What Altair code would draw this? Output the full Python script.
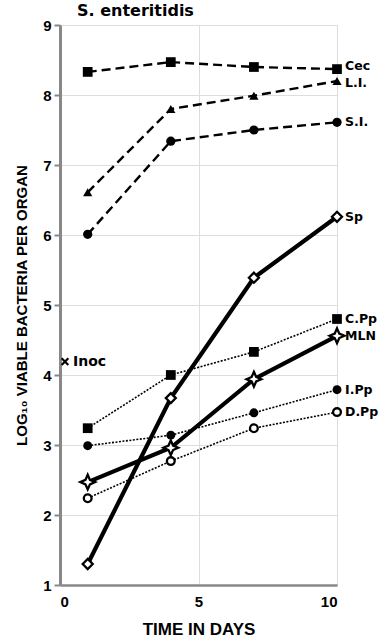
import altair as alt
import pandas as pd

days = [1, 4, 7, 10]
series_names = ["Cec", "L.I.", "S.I.", "Sp", "C.Pp", "MLN", "I.Pp", "D.Pp"]
cec = [8.33, 8.47, 8.40, 8.37]
li = [6.61, 7.80, 7.99, 8.20]
si = [6.01, 7.34, 7.50, 7.61]
sp = [1.30, 3.67, 5.39, 6.26]
cpp = [3.24, 4.00, 4.33, 4.80]
mln = [2.47, 2.96, 3.94, 4.56]
ipp = [2.99, 3.14, 3.46, 3.79]
dpp = [2.24, 2.77, 3.24, 3.47]
label_shift = [-3, 2, 0, 0, 0, 0, 0, 0]
inoc_day = [0.18]
inoc_value = [4.19]
inoc_label = ["Inoc"]
x_ticks = [0, 5, 10]
y_ticks = [1, 2, 3, 4, 5, 6, 7, 8, 9]

values = {"Cec": cec, "L.I.": li, "S.I.": si, "Sp": sp,
          "C.Pp": cpp, "MLN": mln, "I.Pp": ipp, "D.Pp": dpp}

FONT = "DejaVu Sans"
star = "M0,-1.25L0.38,-0.38L1.25,0L0.38,0.38L0,1.25L-0.38,0.38L-1.25,0L-0.38,-0.38Z"

styles = {
    "Cec": dict(width=2.4, dash=[9, 5], shape="square", filled=True, size=95),
    "L.I.": dict(width=2.4, dash=[9, 5], shape="triangle-up", filled=True, size=85),
    "S.I.": dict(width=2.4, dash=[9, 5], shape="circle", filled=True, size=85),
    "Sp": dict(width=4.2, dash=None, shape="diamond", filled=False, size=100),
    "C.Pp": dict(width=1.6, dash=[2, 1.5], shape="square", filled=True, size=95),
    "MLN": dict(width=4.2, dash=None, shape=star, filled=False, size=140),
    "I.Pp": dict(width=1.6, dash=[2, 1.5], shape="circle", filled=True, size=80),
    "D.Pp": dict(width=1.6, dash=[2, 1.5], shape="circle", filled=False, size=60),
}

x_enc = alt.X("day:Q", scale=alt.Scale(domain=[0, 10]),
              axis=alt.Axis(values=x_ticks, title="TIME IN DAYS", ticks=False,
                            labelPadding=9, titlePadding=12, domainWidth=2.5,
                            labelFontSize=15, titleFontSize=17,
                            labelFontWeight="bold", titleFontWeight="bold"))
y_enc = alt.Y("value:Q", scale=alt.Scale(domain=[1, 9]),
              axis=alt.Axis(values=y_ticks, title="LOG\u2081\u2080 VIABLE BACTERIA PER ORGAN",
                            tickSize=6, tickWidth=2, labelPadding=3, titlePadding=13,
                            domainWidth=3, labelFontSize=15, titleFontSize=15,
                            labelFontWeight="bold", titleFontWeight="bold"))

line_layers, point_layers, text_layers = [], [], []
for s, shift in zip(series_names, label_shift):
    sub = pd.DataFrame({"series": s, "day": days, "value": values[s]})
    st = styles[s]
    lkw = dict(color="black", strokeWidth=st["width"])
    if st["dash"]:
        lkw["strokeDash"] = st["dash"]
    line_layers.append(alt.Chart(sub).mark_line(**lkw).encode(x=x_enc, y=y_enc))
    pkw = dict(shape=st["shape"], size=st["size"], opacity=1)
    if st["filled"]:
        pkw.update(filled=True, color="black", strokeWidth=0)
    else:
        pkw.update(filled=True, fill="white", stroke="black", strokeWidth=2.3)
    point_layers.append(alt.Chart(sub).mark_point(**pkw).encode(x=x_enc, y=y_enc))
    last = sub.iloc[[-1]]
    text_layers.append(
        alt.Chart(last).mark_text(align="left", baseline="middle", dx=8, dy=shift, font=FONT,
                                  fontWeight="bold", fontSize=12.5, color="black")
        .encode(x=x_enc, y=y_enc, text="series:N"))

inoc_df = pd.DataFrame({"day": inoc_day, "value": inoc_value, "label": inoc_label})
inoc_mark = alt.Chart(inoc_df).mark_point(shape="M-1,-1L1,1M-1,1L1,-1", size=45, filled=False,
                                           color="black", strokeWidth=2.2, opacity=1).encode(x=x_enc, y=y_enc)
inoc_text = alt.Chart(inoc_df).mark_text(align="left", baseline="middle", dx=8, font=FONT,
                                          fontWeight="bold", fontSize=14, color="black").encode(
    x=x_enc, y=y_enc, text="label:N")

chart = alt.layer(*line_layers, *point_layers, *text_layers, inoc_mark, inoc_text).properties(
    width=277, height=560,
    padding={"left": 60, "top": 25, "right": 50, "bottom": 55},
    autosize=alt.AutoSizeParams(type="none"),
    title=alt.Title("S. enteritidis", anchor="start", frame="group", dx=17, offset=-1, font=FONT,
                    fontSize=16, fontWeight="bold", color="black"),
).configure_view(stroke=None).configure_axis(
    grid=False, domainColor="black", tickColor="black", labelColor="black",
    titleColor="black", labelFont=FONT, titleFont=FONT,
).configure(background="white")

chart.save("out.html", embed_options={"renderer": "svg", "actions": False})
